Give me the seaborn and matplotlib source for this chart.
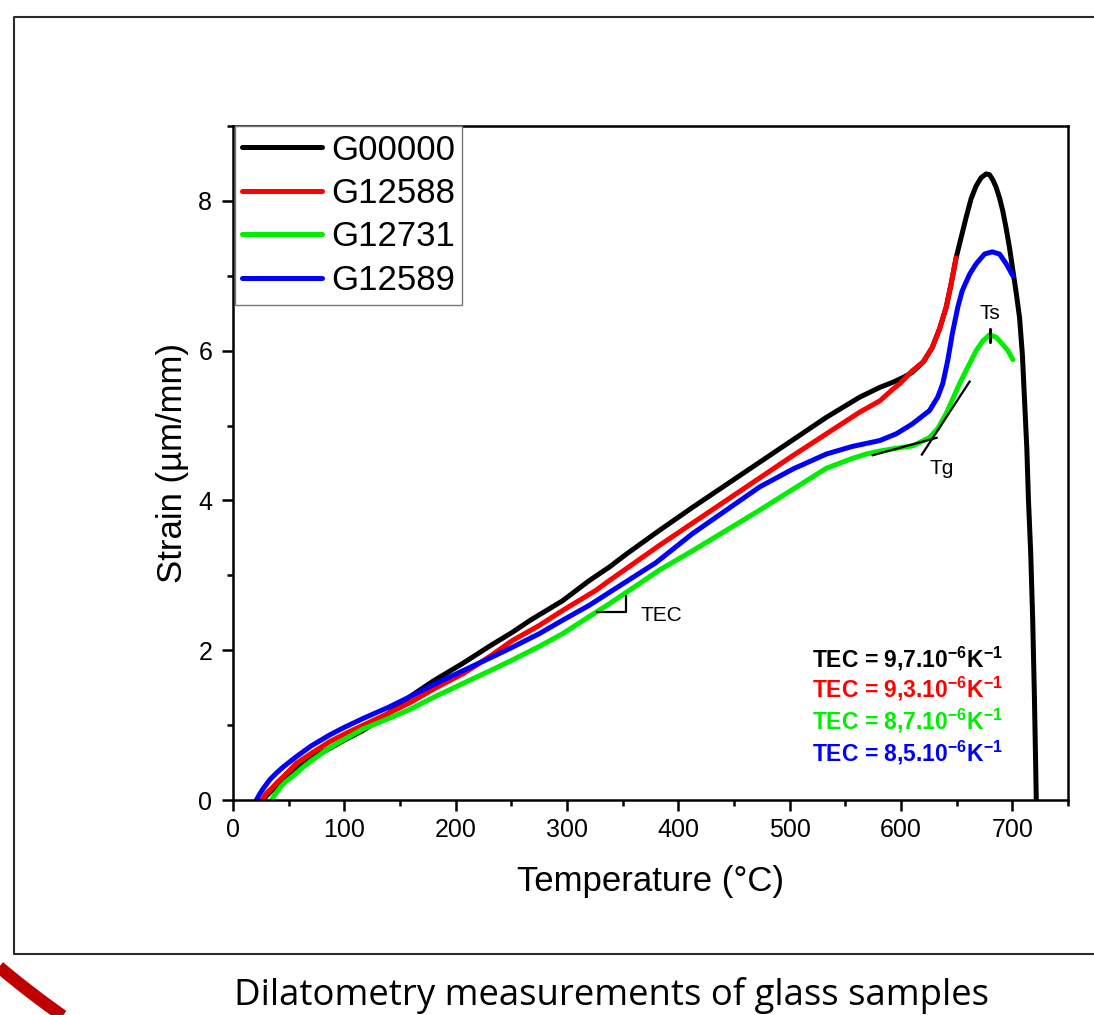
import numpy as np
import pandas as pd
import matplotlib
matplotlib.use("Agg")
import matplotlib.pyplot as plt
import seaborn as sns
from matplotlib.lines import Line2D
from matplotlib.ticker import MultipleLocator

# ---------------- data ----------------
samples = ["G00000", "G12588", "G12731", "G12589"]
colors = ["#000000", "#FF0000", "#00EE00", "#0000FF"]
tec_values = ["9,7", "9,3", "8,7", "8,5"]

t_g00000 = [27, 31, 35, 40, 45, 57, 70, 87, 100, 117, 140, 159, 180, 207, 230, 251, 267, 296,
            320, 338, 353, 383, 413, 443, 473, 503, 533, 563, 581, 593, 603, 610, 620, 628,
            634.6, 640.6, 645, 649.5, 654, 658.5, 663, 667.5, 672, 676.5, 679.5, 682.5, 685.5,
            688.5, 691.5, 694.5, 697.5, 700.5, 703.5, 706.5, 709, 711, 713, 714.5, 716.5, 718.3,
            719.8, 720.8, 721.5]
s_g00000 = [0, 0.07, 0.13, 0.20, 0.27, 0.42, 0.56, 0.69, 0.80, 0.93, 1.16, 1.38, 1.59, 1.83, 2.05, 2.24, 2.40, 2.66,
            2.93, 3.11, 3.28, 3.60, 3.91, 4.21, 4.51, 4.81, 5.11, 5.38, 5.51, 5.58, 5.65, 5.71, 5.85, 6.04,
            6.29, 6.58, 6.89, 7.24, 7.51, 7.78, 8.03, 8.20, 8.31, 8.36, 8.35, 8.28, 8.18,
            8.04, 7.86, 7.63, 7.37, 7.07, 6.77, 6.44, 5.95, 5.33, 4.70, 4.00, 3.30, 2.40,
            1.40, 0.60, 0]

t_g12588 = [26, 30, 35, 40, 45, 57, 70, 87, 100, 117, 140, 159, 180, 207, 230, 251, 275, 296, 326, 338,
            383, 413, 443, 473, 503, 533, 563, 581, 593, 599, 610, 620, 628, 634.6, 640.6, 645, 649.5]
s_g12588 = [0, 0.09, 0.16, 0.24, 0.31, 0.49, 0.62, 0.78, 0.88, 1.00, 1.16, 1.30, 1.48, 1.69, 1.91, 2.13, 2.33, 2.53, 2.80, 2.93,
            3.40, 3.70, 4.00, 4.30, 4.60, 4.89, 5.18, 5.33, 5.49, 5.56, 5.73, 5.85, 6.04, 6.29, 6.58, 6.89, 7.24]

t_g12731 = [34.7, 37, 40, 43, 47, 52, 57, 63, 70, 87, 100, 117, 140, 159, 180, 207, 230, 251, 275, 296, 320, 338,
            356, 383, 413, 443, 473, 503, 533, 556, 569, 581, 593, 610.7, 625.6, 633, 640.6, 646.6, 652.6,
            660, 667.5, 673.5, 679.5, 685.5, 691, 696, 700.5]
s_g12731 = [0, 0.06, 0.12, 0.18, 0.24, 0.30, 0.36, 0.44, 0.52, 0.70, 0.81, 0.95, 1.09, 1.21, 1.37, 1.56, 1.72, 1.87, 2.05, 2.22, 2.45, 2.62,
            2.80, 3.07, 3.33, 3.60, 3.87, 4.15, 4.43, 4.56, 4.62, 4.66, 4.69, 4.73, 4.84, 4.96, 5.16, 5.36, 5.56,
            5.78, 6.00, 6.13, 6.21, 6.18, 6.09, 6.00, 5.88]

t_g12589 = [21, 24, 27, 30, 33, 39, 45, 51, 57, 70, 87, 100, 117, 140, 159, 180, 207, 230, 251, 275, 296, 320, 341,
            380, 413, 443, 473, 503, 533, 556, 581, 595.8, 610, 625.6, 633, 637.5, 642, 646, 651, 655,
            661.6, 667.5, 675, 682, 688.5, 694.5, 700.5]
s_g12589 = [0, 0.08, 0.15, 0.21, 0.27, 0.36, 0.44, 0.51, 0.58, 0.72, 0.87, 0.97, 1.09, 1.24, 1.38, 1.54, 1.73, 1.89, 2.04, 2.22, 2.40, 2.60, 2.80,
            3.17, 3.56, 3.87, 4.18, 4.42, 4.62, 4.72, 4.80, 4.89, 5.02, 5.20, 5.38, 5.56, 5.87, 6.22, 6.58, 6.80,
            7.02, 7.16, 7.29, 7.32, 7.29, 7.16, 7.00]

x_ticks = [0, 100, 200, 300, 400, 500, 600, 700]
y_ticks = [0, 2, 4, 6, 8]

# ---------------- styling ----------------
sns.set_theme(style="ticks")
plt.rcParams['font.family'] = ['Liberation Sans', 'DejaVu Sans']
plt.rcParams['mathtext.fontset'] = 'custom'
plt.rcParams['mathtext.rm'] = 'Liberation Sans:bold'
plt.rcParams['mathtext.bf'] = 'Liberation Sans:bold'
plt.rcParams['mathtext.default'] = 'bf'

W, H = 1094, 1015
fig = plt.figure(figsize=(W / 100, H / 100), dpi=100)
fig.patch.set_facecolor('white')

ax_l, ax_r, ax_t, ax_b = 233, 1068, 126, 800
ax = fig.add_axes([ax_l / W, 1 - ax_b / H, (ax_r - ax_l) / W, (ax_b - ax_t) / H])
ax.set_facecolor('white')

frames = []
for name, t, s in [("G00000", t_g00000, s_g00000), ("G12588", t_g12588, s_g12588),
                   ("G12731", t_g12731, s_g12731), ("G12589", t_g12589, s_g12589)]:
    frames.append(pd.DataFrame({"Temperature": t, "Strain": s, "Sample": name}))
df = pd.concat(frames, ignore_index=True)

sns.lineplot(data=df, x="Temperature", y="Strain", hue="Sample", hue_order=samples,
             palette=dict(zip(samples, colors)), sort=False, estimator=None,
             linewidth=3.6, ax=ax, legend=True)
for ln in ax.get_lines():
    ln.set_solid_joinstyle('round')
    ln.set_solid_capstyle('round')

ax.set_xlim(0, 750)
ax.set_ylim(0, 9)
ax.set_xticks(x_ticks)
ax.set_yticks(y_ticks)
ax.xaxis.set_minor_locator(MultipleLocator(50))
ax.yaxis.set_minor_locator(MultipleLocator(1))
ax.tick_params(axis='both', which='major', direction='out', length=8, width=1.8,
               labelsize=18, color='black', labelcolor='black')
ax.tick_params(axis='x', which='major', pad=5)
ax.tick_params(axis='y', which='major', pad=7)
ax.tick_params(axis='both', which='minor', direction='out', length=4.5, width=1.8, color='black')
ax.tick_params(top=False, right=False, which='both')
for sp in ax.spines.values():
    sp.set_visible(True)
    sp.set_linewidth(1.8)
    sp.set_color('black')

ax.set_xlabel("Temperature (°C)", fontsize=25, color='black')
ax.set_ylabel("Strain (µm/mm)", fontsize=25, color='black')
ax.xaxis.set_label_coords(0.5, -0.097)
ax.yaxis.set_label_coords(-0.053, 0.5)

handles, labels = ax.get_legend_handles_labels()
leg = ax.legend(handles, labels, loc='upper left', bbox_to_anchor=(0.002, 1.0),
                borderaxespad=0, fontsize=25, frameon=True, fancybox=False,
                edgecolor='#777777', framealpha=1, handlelength=2.3,
                handletextpad=0.25, labelspacing=0.3, borderpad=0.22, title=None)
leg.get_frame().set_linewidth(1.0)
for txt in leg.get_texts():
    txt.set_color('black')
for lh in leg.get_lines():
    lh.set_linewidth(3.6)

# ---------------- annotations ----------------
ann_kw = dict(color='black', lw=1.6, solid_capstyle='butt')
ax.plot([573.6, 632.9], [4.60, 4.84], **ann_kw)
ax.plot([618.2, 662.2], [4.60, 5.60], **ann_kw)
ax.text(636.6, 4.43, "Tg", fontsize=15, ha='center', va='center', color='black')
ax.plot([679.5, 679.5], [6.11, 6.29], color='black', lw=2.2)
ax.text(679.5, 6.49, "Ts", fontsize=15, ha='center', va='center', color='black')
ax.plot([326.7, 352.8, 352.8], [2.51, 2.51, 2.72], color='black', lw=1.6)
ax.text(366, 2.47, "TEC", fontsize=15, ha='left', va='center', color='black')

tec_y = [1.89, 1.48, 1.05, 0.63]
for val, col, yy in zip(tec_values, colors, tec_y):
    ax.text(519.7, yy, "TEC = " + val + r".10$^{-6}$K$^{-1}$", fontsize=16.5,
            fontweight='bold', color=col, ha='left', va='center')

# ---------------- page decoration ----------------
bx0, by0, by1 = 14 / W, 1 - 17 / H, 1 - 954 / H
fig.add_artist(Line2D([1.05, bx0, bx0, 1.05], [by0, by0, by1, by1], transform=fig.transFigure,
                      color='#2b2b2b', lw=1.5, clip_on=False))

theta = np.radians(np.linspace(116, 136, 80))
cx, cy, r = 600, 252, 934
arc_x = (cx + r * np.cos(theta)) / W
arc_y = 1 - (cy + r * np.sin(theta)) / H
fig.add_artist(Line2D(arc_x, arc_y, transform=fig.transFigure, color='#C00000', lw=9,
                      solid_capstyle='butt', clip_on=False))

fig.text(612 / W, 1 - 1005 / H, "Dilatometry measurements of glass samples",
         ha='center', va='baseline', fontsize=26.3, family=['Open Sans', 'DejaVu Sans'], color='black')

fig.savefig("out.png", dpi=100, facecolor='white')
